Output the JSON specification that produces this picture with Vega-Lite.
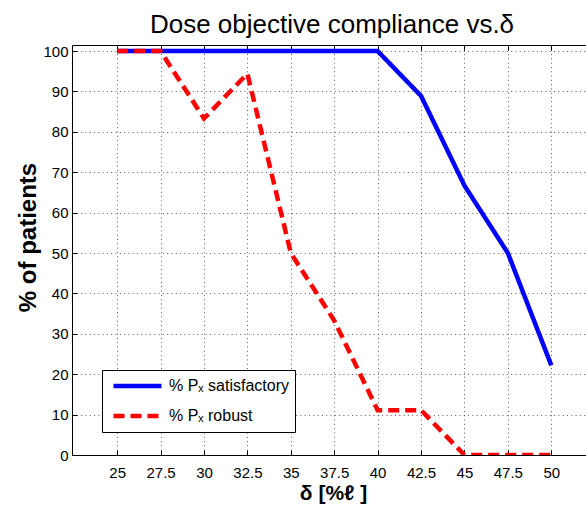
{
  "$schema": "https://vega.github.io/schema/vega-lite/v6.json",
  "width": 514,
  "height": 410,
  "autosize": {"type": "none"},
  "padding": {"left": 72, "top": 45, "right": 0, "bottom": 53},
  "background": "white",
  "title": {
    "text": "Dose objective compliance vs.δ",
    "font": "Liberation Sans",
    "fontSize": 26,
    "fontWeight": "normal",
    "color": "black",
    "anchor": "middle",
    "dx": 3,
    "offset": 6
  },
  "config": {
    "view": {"stroke": null},
    "axis": {
      "domainColor": "black",
      "domainWidth": 1,
      "tickColor": "black",
      "tickWidth": 1,
      "tickSize": -5,
      "labelColor": "black",
      "labelFont": "Liberation Sans",
      "labelFontSize": 15,
      "titleColor": "black",
      "titleFont": "Liberation Sans",
      "titleFontWeight": "bold",
      "gridColor": "#333333",
      "gridDash": [1, 3.3],
      "gridWidth": 1,
      "gridOpacity": 0.8
    }
  },
  "data": {
    "values": [
      {"delta": 25, "pct": 100, "series": "% Pₓ satisfactory"},
      {"delta": 27.5, "pct": 100, "series": "% Pₓ satisfactory"},
      {"delta": 30, "pct": 100, "series": "% Pₓ satisfactory"},
      {"delta": 32.5, "pct": 100, "series": "% Pₓ satisfactory"},
      {"delta": 35, "pct": 100, "series": "% Pₓ satisfactory"},
      {"delta": 37.5, "pct": 100, "series": "% Pₓ satisfactory"},
      {"delta": 40, "pct": 100, "series": "% Pₓ satisfactory"},
      {"delta": 42.5, "pct": 88.9, "series": "% Pₓ satisfactory"},
      {"delta": 45, "pct": 66.7, "series": "% Pₓ satisfactory"},
      {"delta": 47.5, "pct": 50, "series": "% Pₓ satisfactory"},
      {"delta": 50, "pct": 22.2, "series": "% Pₓ satisfactory"},
      {"delta": 25, "pct": 100, "series": "% Pₓ robust"},
      {"delta": 27.5, "pct": 100, "series": "% Pₓ robust"},
      {"delta": 30, "pct": 83.3, "series": "% Pₓ robust"},
      {"delta": 32.5, "pct": 94.4, "series": "% Pₓ robust"},
      {"delta": 35, "pct": 50, "series": "% Pₓ robust"},
      {"delta": 37.5, "pct": 33.3, "series": "% Pₓ robust"},
      {"delta": 40, "pct": 11.1, "series": "% Pₓ robust"},
      {"delta": 42.5, "pct": 11.1, "series": "% Pₓ robust"},
      {"delta": 45, "pct": 0, "series": "% Pₓ robust"},
      {"delta": 47.5, "pct": 0, "series": "% Pₓ robust"},
      {"delta": 50, "pct": 0, "series": "% Pₓ robust"}
    ]
  },
  "layer": [
    {
      "mark": {"type": "rule", "strokeOpacity": 0},
      "encoding": {
        "x": {
          "field": "delta",
          "type": "quantitative",
          "scale": {"domain": [22.4, 52], "nice": false, "zero": false},
          "axis": {
            "orient": "top",
            "values": [25, 27.5, 30, 32.5, 35, 37.5, 40, 42.5, 45, 47.5, 50],
            "labels": false,
            "grid": false,
            "title": null
          }
        }
      }
    },
    {
      "mark": {"type": "line", "strokeWidth": 4.5, "strokeCap": "butt", "clip": true},
      "encoding": {
        "x": {
          "field": "delta",
          "type": "quantitative",
          "scale": {"domain": [22.4, 52], "nice": false, "zero": false},
          "axis": {
            "orient": "bottom",
            "values": [25, 27.5, 30, 32.5, 35, 37.5, 40, 42.5, 45, 47.5, 50],
            "labelExpr": "'' + datum.value",
            "labelPadding": 15,
            "grid": true,
            "title": "δ [%ℓ ]",
            "titleFontSize": 21,
            "titleX": 261,
            "titleY": 38,
            "titleBaseline": "middle",
            "titleAnchor": "middle",
            "titleAlign": "center"
          }
        },
        "y": {
          "field": "pct",
          "type": "quantitative",
          "scale": {"domain": [0, 101.5], "nice": false},
          "axis": {
            "values": [0, 10, 20, 30, 40, 50, 60, 70, 80, 90, 100],
            "labelPadding": 9,
            "grid": true,
            "title": "% of patients",
            "titleFontSize": 24,
            "titleAngle": -90,
            "titleX": -44,
            "titleY": 192,
            "titleBaseline": "middle",
            "titleAlign": "center"
          }
        },
        "color": {
          "field": "series",
          "type": "nominal",
          "scale": {
            "domain": ["% Pₓ satisfactory", "% Pₓ robust"],
            "range": ["#0000ff", "#ff0000"]
          },
          "legend": {
            "orient": "none",
            "legendX": 30,
            "legendY": 325,
            "title": null,
            "direction": "vertical",
            "symbolType": "stroke",
            "symbolSize": 2304,
            "symbolStrokeWidth": 4.5,
            "symbolOffset": 3,
            "clipHeight": 20,
            "labelOffset": 5,
            "labelFont": "Liberation Sans",
            "labelFontSize": 16,
            "labelColor": "black",
            "labelLimit": 300,
            "strokeColor": "black",
            "fillColor": "white",
            "padding": 6,
            "rowPadding": 10,
            "cornerRadius": 0
          }
        },
        "strokeDash": {
          "field": "series",
          "type": "nominal",
          "scale": {
            "domain": ["% Pₓ satisfactory", "% Pₓ robust"],
            "range": [[1, 0], [11, 6]]
          },
          "legend": null
        }
      }
    }
  ]
}
